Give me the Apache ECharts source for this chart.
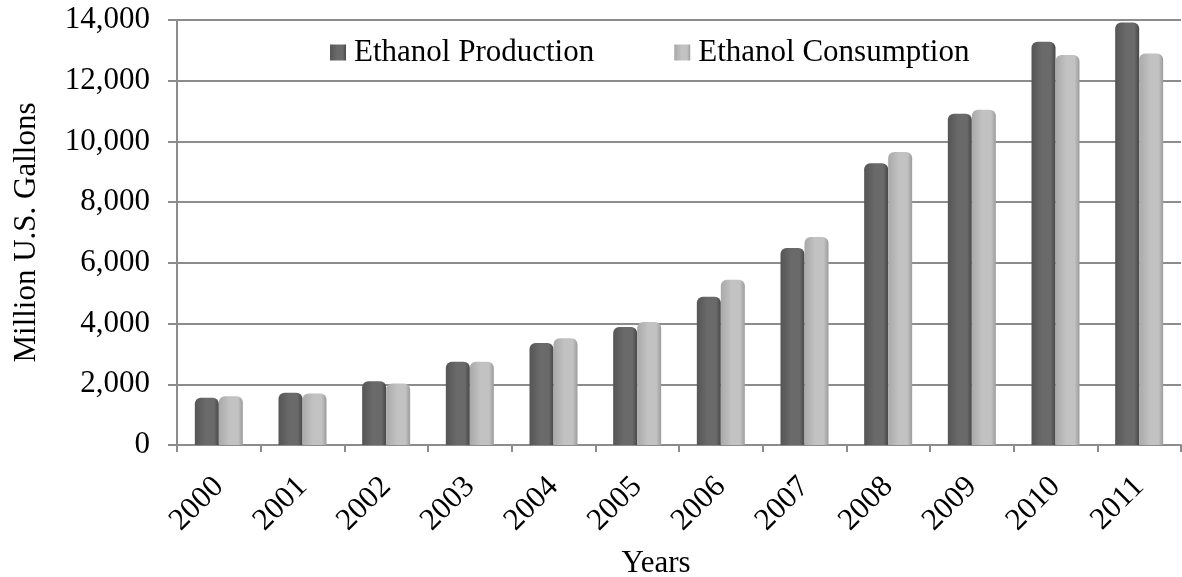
<!DOCTYPE html>
<html>
<head>
<meta charset="utf-8">
<script src="https://cdn.jsdelivr.net/npm/echarts@6/dist/echarts.min.js"></script>
<style>
html,body{margin:0;padding:0;background:#fff;}
#chart{width:1182px;height:577px;}
</style>
</head>
<body>
<div id="chart"></div>
<script>
var years = ['2000','2001','2002','2003','2004','2005','2006','2007','2008','2009','2010','2011'];
var production = [1560, 1720, 2100, 2740, 3360, 3890, 4880, 6490, 9280, 10910, 13280, 13920];
var consumption = [1610, 1700, 2030, 2740, 3520, 4050, 5440, 6850, 9650, 11040, 12850, 12900];
var seriesNames = ['Ethanol Production', 'Ethanol Consumption'];
var yAxisTitle = 'Million U.S. Gallons';
var xAxisTitle = 'Years';

var FONT = '"Liberation Serif", "Times New Roman", serif';
function grad(edgeL, mid, edgeR) {
  return new echarts.graphic.LinearGradient(0, 0, 1, 0, [
    {offset: 0, color: edgeL},
    {offset: 0.45, color: mid},
    {offset: 0.8, color: mid},
    {offset: 1, color: edgeR}
  ]);
}
var chart = echarts.init(document.getElementById('chart'), null, {renderer: 'canvas'});
chart.setOption({
  backgroundColor: '#ffffff',
  animation: false,
  textStyle: {fontFamily: FONT, color: '#000'},
  grid: {left: 177, right: 1, top: 20, bottom: 132, containLabel: false, outerBoundsMode: 'none'},
  legend: {
    data: seriesNames,
    left: 325, top: 32,
    icon: 'rect', itemWidth: 16, itemHeight: 16, itemGap: 80,
    textStyle: {fontFamily: FONT, fontSize: 31, color: '#000', padding: [0,0,0,3]}
  },
  xAxis: {
    type: 'category',
    data: years,
    name: xAxisTitle,
    nameLocation: 'middle',
    nameGap: 103,
    nameTextStyle: {fontFamily: FONT, fontSize: 31, color: '#000', padding: [0, 46, 0, 0]},
    axisLine: {lineStyle: {color: '#8c8c8c', width: 2}},
    axisTick: {show: true, length: 7, lineStyle: {color: '#8c8c8c', width: 2}},
    axisLabel: {rotate: 45, margin: 37, fontFamily: FONT, fontSize: 31, color: '#000', verticalAlign: 'middle', align: 'right'},
    splitLine: {show: false}
  },
  yAxis: {
    type: 'value',
    min: 0, max: 14000, interval: 2000,
    name: yAxisTitle,
    nameLocation: 'middle',
    nameGap: 135,
    nameTextStyle: {fontFamily: FONT, fontSize: 31, color: '#000'},
    axisLine: {show: true, lineStyle: {color: '#8c8c8c', width: 2}},
    axisTick: {show: true, length: 9, lineStyle: {color: '#8c8c8c', width: 2}},
    axisLabel: {margin: 27, fontFamily: FONT, fontSize: 31, color: '#000',
      formatter: function (v) { return v.toLocaleString('en-US'); }},
    splitLine: {show: true, lineStyle: {color: '#8c8c8c', width: 2}}
  },
  series: [
    {
      name: seriesNames[0], type: 'bar', data: production,
      barWidth: 24, barGap: '0%',
      itemStyle: {color: grad('#555555', '#6a6a6a', '#474747'), borderRadius: [6, 6, 0, 0]}
    },
    {
      name: seriesNames[1], type: 'bar', data: consumption,
      barWidth: 24, barGap: '0%',
      itemStyle: {color: grad('#a9a9a9', '#c2c2c2', '#9c9c9c'), borderRadius: [6, 6, 0, 0]}
    }
  ]
});
</script>
</body>
</html>
